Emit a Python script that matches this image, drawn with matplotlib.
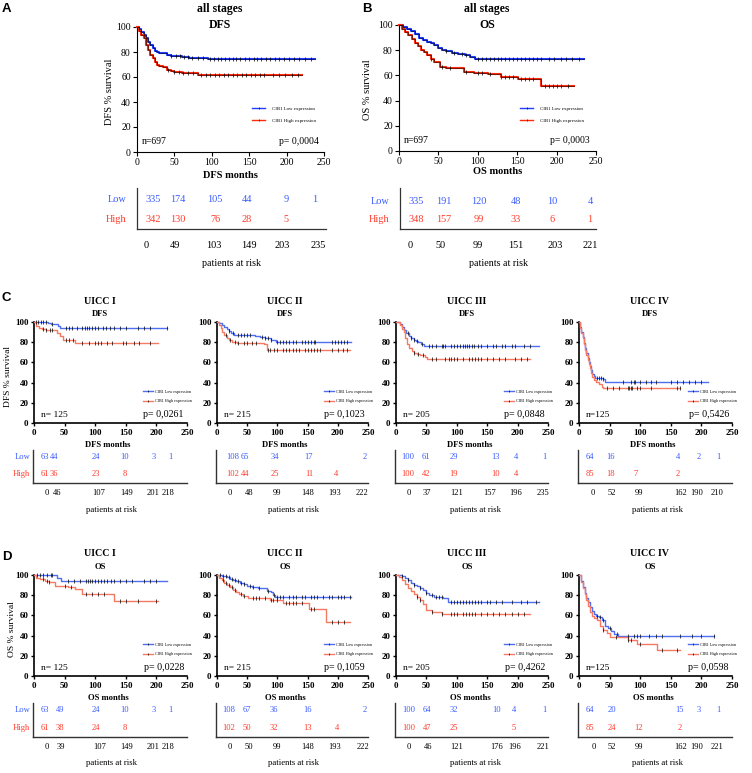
import matplotlib
matplotlib.use('Agg')
import matplotlib.pyplot as plt
import numpy as np
from matplotlib.lines import Line2D

plt.rcParams['font.family'] = ['Liberation Serif', 'DejaVu Serif']

# ---------------- data ----------------
# Panel A: all stages, DFS
A_low_t = [0, 3, 6, 9, 12, 15, 18, 21, 24, 27, 30, 35, 40, 45, 50, 60, 70, 80, 95, 238]
A_low_s = [100, 98.5, 96, 94, 91, 88, 86, 83, 81, 80, 79.5, 79, 78, 77, 76.5, 76, 75.5, 75, 74.5, 74.5]
A_low_c = [45, 52, 58, 63, 68, 74, 82, 88, 97, 103, 108, 112, 118, 123, 128, 133, 138, 144, 150, 156,
           160, 166, 172, 178, 185, 190, 196, 203, 210, 216, 224, 232]
A_high_t = [0, 3, 6, 9, 12, 15, 18, 21, 24, 27, 30, 35, 40, 45, 50, 60, 70, 82, 221]
A_high_s = [100, 97, 94, 91, 86, 82, 78, 75, 72, 70, 69, 68, 66, 65, 64, 63.5, 63, 61.5, 61.5]
A_high_c = [42, 50, 56, 62, 68, 75, 85, 92, 98, 104, 110, 116, 122, 128, 134, 140, 146, 152, 158, 164,
            170, 182, 190, 198, 207, 215]
# Panel B: all stages, OS
B_low_t = [0, 5, 10, 15, 20, 25, 30, 35, 40, 45, 50, 55, 60, 67, 75, 84, 90, 97, 235]
B_low_s = [100, 98.5, 97, 95, 93, 90, 88, 86.5, 85.5, 84, 82, 80.5, 79.5, 78, 77, 76, 75, 72.8, 72.8]
B_low_c = [60, 70, 80, 85, 100, 105, 110, 115, 120, 125, 130, 135, 140, 145, 150, 155, 160, 165, 170,
           175, 180, 190, 197, 205, 212, 220, 228]
B_high_t = [0, 4, 8, 12, 16, 20, 24, 28, 32, 36, 40, 45, 52, 60, 75, 82, 95, 113, 129, 151, 180, 222]
B_high_s = [100, 97, 94.5, 92, 89, 86, 83, 80.5, 78.5, 76, 73, 70.5, 67, 66, 65.5, 63, 62, 61.5, 59, 57, 51.3, 51.3]
B_high_c = [40, 55, 65, 85, 100, 105, 115, 130, 135, 140, 145, 155, 160, 165, 170, 185, 190, 195, 200, 205, 215]

# Panel C: DFS by UICC stage
C1_low_t = [0, 23, 28, 40, 43, 218]
C1_low_s = [100, 99, 98.5, 96, 94.4, 94.4]
C1_low_c = [3, 7, 11, 15, 19, 29, 52, 57, 62, 70, 78, 83, 86, 90, 95, 100, 105, 112, 118, 124, 130, 140,
            150, 170, 180, 190, 217]
C1_high_t = [0, 3, 8, 13, 20, 38, 43, 48, 67, 203]
C1_high_s = [100, 96, 94, 93.5, 92.4, 89, 86.5, 82, 79.5, 79.5]
C1_high_c = [14, 20, 26, 30, 53, 58, 63, 78, 90, 100, 105, 110, 120, 128, 145, 150, 163, 172, 190]

C2_low_t = [0, 4, 8, 12, 16, 20, 24, 28, 63, 72, 80, 90, 97, 222]
C2_low_s = [100, 99, 97, 95, 93, 91, 89, 87.5, 86.5, 85, 83.8, 82, 80.5, 80.5]
C2_low_c = [20, 26, 35, 40, 45, 50, 55, 75, 80, 85, 90, 100, 105, 110, 115, 120, 125, 130, 140, 145,
            150, 155, 160, 163, 190, 195, 200, 205, 210, 215]
C2_high_t = [0, 3, 6, 9, 12, 16, 20, 25, 33, 78, 82, 220]
C2_high_s = [100, 97, 94, 90, 87, 84, 82, 80.5, 79, 78.5, 72.5, 72.5]
C2_high_c = [15, 22, 30, 35, 45, 50, 58, 65, 85, 88, 95, 100, 110, 115, 120, 125, 130, 135, 145, 150,
             155, 160, 165, 170, 190, 200, 208, 215]

C3_low_t = [0, 7, 10, 13, 17, 21, 25, 29, 33, 37, 41, 46, 235]
C3_low_s = [100, 98, 95, 92, 89, 86, 84, 82, 81, 80, 78, 76, 76]
C3_low_c = [20, 25, 30, 35, 42, 55, 60, 65, 75, 78, 80, 90, 95, 100, 105, 110, 113, 117, 120, 125, 128,
            135, 140, 150, 160, 165, 175, 180, 190, 195, 210, 220]
C3_high_t = [0, 7, 10, 13, 15, 18, 22, 26, 30, 35, 40, 48, 51, 221]
C3_high_s = [100, 97, 93, 90, 84, 78, 74, 71, 69.5, 68, 67, 65.5, 63, 63]
C3_high_c = [30, 37, 44, 60, 65, 80, 87, 90, 95, 100, 110, 120, 125, 130, 135, 140, 150, 160, 170, 180,
             195, 205, 215]

C4_low_t = [0, 2, 4, 6, 8, 10, 12, 14, 16, 18, 20, 22, 24, 26, 40, 42, 210]
C4_low_s = [100, 95, 90, 85, 79, 74, 69, 64, 60, 56, 52, 49, 47, 45, 43.5, 41, 41]
C4_low_c = [30, 33, 36, 40, 72, 85, 90, 92, 100, 110, 118, 125, 150, 160, 170, 180, 190, 200]
C4_high_t = [0, 2, 4, 6, 8, 10, 12, 14, 16, 18, 20, 22, 24, 27, 32, 38, 40, 165]
C4_high_s = [100, 94, 89, 84, 78, 72, 67, 62, 58, 54, 50, 46, 43, 41, 39, 36, 34.5, 34.5]
C4_high_c = [45, 55, 65, 80, 82, 85, 87, 95, 100, 118, 160, 165]

# Panel D: OS by UICC stage
D1_low_t = [0, 38, 44, 218]
D1_low_s = [100, 97, 94.4, 94.4]
D1_low_c = [5, 10, 15, 22, 27, 30, 55, 65, 75, 85, 88, 92, 95, 100, 105, 110, 115, 120, 125, 130, 140,
            150, 160, 180, 190, 200]
D1_high_t = [0, 3, 10, 18, 25, 34, 55, 67, 78, 130, 203]
D1_high_s = [100, 97, 96, 94.5, 93, 89, 88.5, 86, 81, 74, 74]
D1_high_c = [15, 22, 25, 50, 60, 85, 95, 105, 115, 140, 150, 170, 200]

D2_low_t = [0, 8, 16, 22, 27, 32, 38, 44, 49, 58, 68, 82, 90, 93, 96, 222]
D2_low_s = [100, 99, 98, 96.5, 95, 94, 92.4, 91, 89, 88, 86.8, 84.5, 83.5, 80, 78, 78]
D2_low_c = [5, 10, 15, 20, 25, 30, 35, 40, 45, 55, 60, 70, 85, 95, 100, 105, 110, 120, 125, 130, 140,
            145, 155, 160, 165, 175, 185, 190, 200, 205, 210, 220]
D2_high_t = [0, 4, 8, 12, 16, 21, 26, 32, 37, 43, 52, 87, 110, 152, 181, 221]
D2_high_s = [100, 97.5, 95, 92.5, 90, 87.8, 85.5, 83.5, 81, 79, 77, 75, 72, 66, 53, 53]
D2_high_c = [10, 15, 20, 25, 30, 40, 45, 60, 65, 70, 80, 90, 92, 100, 115, 120, 125, 130, 140, 155,
             160, 190, 200, 210]

D3_low_t = [0, 10, 15, 20, 25, 30, 35, 40, 45, 50, 55, 62, 78, 86, 235]
D3_low_s = [100, 99, 97.5, 95, 92, 90.5, 89, 87, 85, 82, 80, 78, 77, 73.5, 73.5]
D3_low_c = [10, 20, 30, 40, 50, 60, 65, 70, 75, 90, 95, 100, 105, 110, 115, 120, 125, 130, 135, 140,
            150, 155, 165, 175, 190, 205, 215, 230]
D3_high_t = [0, 5, 10, 15, 20, 25, 30, 35, 40, 45, 50, 60, 75, 220]
D3_high_s = [100, 98, 95, 91, 87, 84, 81, 78, 75, 71, 65, 63, 61, 61]
D3_high_c = [35, 40, 60, 75, 90, 95, 100, 110, 115, 120, 125, 130, 140, 150, 160, 170, 180, 190, 200, 210]

D4_low_t = [0, 3, 6, 9, 12, 15, 18, 21, 24, 28, 33, 38, 43, 48, 53, 58, 63, 221]
D4_low_s = [100, 94, 88, 82, 77, 73, 68, 64, 61, 59, 58, 55, 50, 48, 45, 42, 39.5, 39.5]
D4_low_c = [30, 35, 40, 50, 62, 80, 90, 95, 100, 115, 125, 135, 165, 185, 200, 221]
D4_high_t = [0, 3, 6, 9, 12, 15, 18, 21, 25, 30, 35, 40, 45, 50, 80, 95, 128, 165]
D4_high_s = [100, 93, 87, 81, 75, 69, 63, 59, 57, 55, 50, 46, 43, 39, 36, 32, 26, 26]
D4_high_c = [40, 60, 80, 85, 100, 135, 160]

# numbers at risk
A_risk_low = [335, 174, 105, 44, 9, 1]
A_risk_high = [342, 130, 76, 28, 5, None]
A_risk_times = [0, 49, 103, 149, 203, 235]
B_risk_low = [335, 191, 120, 48, 10, 4]
B_risk_high = [348, 157, 99, 33, 6, 1]
B_risk_times = [0, 50, 99, 151, 203, 221]
C1_risk_low = [63, 44, 24, 10, 3, 1]
C1_risk_high = [61, 36, 23, 8, None, None]
C1_risk_times = [0, 46, 107, 149, 201, 218]
C2_risk_low = [108, 65, 34, 17, None, 2]
C2_risk_high = [102, 44, 25, 11, 4, None]
C2_risk_times = [0, 48, 99, 148, 193, 222]
C3_risk_low = [100, 61, 29, 13, 4, 1]
C3_risk_high = [100, 42, 19, 10, 4, None]
C3_risk_times = [0, 37, 121, 157, 196, 235]
C4_risk_low = [64, 16, None, 4, 2, 1]
C4_risk_high = [85, 18, 7, 2, None, None]
C4_risk_times = [0, 52, 99, 162, 190, 210]
D1_risk_low = [63, 49, 24, 10, 3, 1]
D1_risk_high = [61, 38, 24, 8, None, None]
D1_risk_times = [0, 39, 107, 149, 201, 218]
D2_risk_low = [108, 67, 36, 16, None, 2]
D2_risk_high = [102, 50, 32, 13, 4, None]
D2_risk_times = [0, 50, 99, 148, 193, 222]
D3_risk_low = [100, 64, 32, 10, 4, 1]
D3_risk_high = [100, 47, 25, None, 5, None]
D3_risk_times = [0, 46, 121, 176, 196, 221]
D4_risk_low = [64, 20, None, 15, 3, 1]
D4_risk_high = [85, 24, 12, 2, None, None]
D4_risk_times = [0, 52, 99, 162, 190, 221]

n_labels = ['n=697', 'n=697', 'n= 125', 'n= 215', 'n= 205', 'n=125', 'n= 125', 'n= 215', 'n= 205', 'n=125']
p_labels = ['p= 0,0004', 'p= 0,0003', 'p= 0,0261', 'p= 0,1023', 'p= 0,0848', 'p= 0,5426',
            'p= 0,0228', 'p= 0,1059', 'p= 0,4262', 'p= 0,0598']

# ---------------- layout ----------------
W, H = 752, 773
fig = plt.figure(figsize=(W / 100, H / 100), dpi=100)


def ax_px(x0, y0, x1, y1):
    return fig.add_axes([x0 / W, 1 - y1 / H, (x1 - x0) / W, (y1 - y0) / H])


def ftext(x, y, s, **kw):
    fig.text(x / W, 1 - y / H, s, **kw)


BLUE_AB, RED_AB = '#1f3cff', '#ff2a0a'
BLUE_CD, RED_CD = '#4f6ff0', '#f47a62'
TBL_BLUE, TBL_RED = '#3a5cff', '#ff3a2a'


def surv_at(t, s, x):
    idx = np.searchsorted(np.asarray(t), np.asarray(x), side='right') - 1
    return np.asarray(s)[np.clip(idx, 0, len(s) - 1)]


def draw_km(ax, t, s, c, color, lw, ms, black_overlay):
    ax.step(t, s, where='post', color=color, lw=lw, clip_on=False, zorder=3)
    if black_overlay:
        ax.step(t, s, where='post', color='black', lw=0.45, alpha=0.8, clip_on=False, zorder=4)
    ax.plot(c, surv_at(t, s, c), ls='none', marker='|', color='black', ms=ms, mew=0.5,
            clip_on=False, zorder=5)


def style_axes(ax, big):
    ax.set_xlim(0, 250)
    ax.set_ylim(0, 100)
    ax.set_xticks([0, 50, 100, 150, 200, 250])
    ax.set_yticks([0, 20, 40, 60, 80, 100])
    for sp in ['top', 'right']:
        ax.spines[sp].set_visible(False)
    for sp in ['left', 'bottom']:
        ax.spines[sp].set_linewidth(0.8 if big else 1.2)
    ax.tick_params(direction='out', length=3 if big else 2.5, width=0.8 if big else 1.0,
                   labelsize=7 if big else 6.5, pad=1.5)
    if not big:
        for lab in ax.get_xticklabels() + ax.get_yticklabels():
            lab.set_fontweight('bold')
    ax.patch.set_alpha(0)


def legend(ax, colors, anchor, fs, hl, ls, htp, ms):
    handles = [Line2D([0], [0], color=colors[0], lw=1.0, marker='|', mec='black', ms=ms, mew=0.5),
               Line2D([0], [0], color=colors[1], lw=1.0, marker='|', mec='black', ms=ms, mew=0.5)]
    ax.legend(handles, ['CIB1 Low expression', 'CIB1 High expression'], loc='upper left',
              bbox_to_anchor=anchor, frameon=False, fontsize=fs, handlelength=hl,
              labelspacing=ls, handletextpad=htp, borderpad=0, borderaxespad=0, markerscale=1)


def risk_table(box, lowlab_x, rows_y, bottom_y, num_x, bot_x, low, high, times, fs, lw, show_lh):
    tax = ax_px(*box)
    tax.set_xticks([]); tax.set_yticks([])
    for sp in ['top', 'right']:
        tax.spines[sp].set_visible(False)
    for sp in ['left', 'bottom']:
        tax.spines[sp].set_linewidth(lw)
        tax.spines[sp].set_color('#333333')
    tax.patch.set_alpha(0)
    if show_lh:
        ftext(lowlab_x, rows_y[0], 'Low', color=TBL_BLUE, fontsize=fs, ha='right', va='center')
        ftext(lowlab_x, rows_y[1], 'High', color=TBL_RED, fontsize=fs, ha='right', va='center')
    for x, v in zip(num_x, low):
        if v is not None:
            ftext(x, rows_y[0], str(v), color=TBL_BLUE, fontsize=fs, ha='center', va='center')
    for x, v in zip(num_x, high):
        if v is not None:
            ftext(x, rows_y[1], str(v), color=TBL_RED, fontsize=fs, ha='center', va='center')
    for x, v in zip(bot_x, times):
        ftext(x, bottom_y, str(v), color='black', fontsize=fs, ha='center', va='center')


# ---------------- Panels A and B ----------------
ab = [
    dict(box=(137, 27, 324, 152), low=(A_low_t, A_low_s, A_low_c), high=(A_high_t, A_high_s, A_high_c),
         title_x=220, ylab='DFS % survival', ylab_x=110, xlab='DFS months', xlab_y=175,
         leg=(0.615, 0.365), n=n_labels[0], p=p_labels[0],
         tbl=(137, 188, 326, 229), lowlab_x=126, rows=(200, 220),
         num_x=[153, 178, 215, 247, 286, 315], bot_x=[146, 175, 214, 249, 282, 318],
         risk=(A_risk_low, A_risk_high, A_risk_times), par_x=232, letter=('A', 2)),
    dict(box=(399, 25, 596, 151), low=(B_low_t, B_low_s, B_low_c), high=(B_high_t, B_high_s, B_high_c),
         title_x=487, ylab='OS % survival', ylab_x=367, xlab='OS months', xlab_y=172,
         leg=(0.614, 0.355), n=n_labels[1], p=p_labels[1],
         tbl=(400, 188, 596, 229), lowlab_x=389, rows=(201, 219),
         num_x=[416, 444, 479, 516, 552, 590], bot_x=[410, 440, 478, 516, 555, 590],
         risk=(B_risk_low, B_risk_high, B_risk_times), par_x=499, letter=('B', 362)),
]
for P in ab:
    ax = ax_px(*P['box'])
    style_axes(ax, True)
    draw_km(ax, *P['low'], BLUE_AB, 1.5, 2.2, True)
    draw_km(ax, *P['high'], RED_AB, 1.5, 2.2, True)
    legend(ax, (BLUE_AB, RED_AB), P['leg'], 3.5, 2.7, 1.6, 1.4, 2)
    ax.text(0.025, 0.08, P['n'], transform=ax.transAxes, fontsize=7, ha='left', va='center')
    ax.text(0.97, 0.08, P['p'], transform=ax.transAxes, fontsize=7, ha='right', va='center')
    ftext(P['title_x'], 9, 'all stages', fontsize=8.5, fontweight='bold', ha='center', va='center')
    ftext(P['title_x'], 25, 'DFS' if 'DFS' in P['ylab'] else 'OS', fontsize=8.5, fontweight='bold',
          ha='center', va='center')
    cx = (P['box'][0] + P['box'][2]) / 2
    ftext(P['ylab_x'], (P['box'][1] + P['box'][3]) / 2 + 2, P['ylab'], fontsize=7.5, rotation=90,
          ha='center', va='center')
    ftext(cx, P['xlab_y'], P['xlab'], fontsize=7.5, fontweight='bold', ha='center', va='center')
    risk_table(P['tbl'], P['lowlab_x'], P['rows'], 245, P['num_x'], P['bot_x'], *P['risk'], 7.4, 0.9, True)
    ftext(P['par_x'], 263, 'patients at risk', fontsize=7.2, ha='center', va='center')
    ftext(P['letter'][1], 9, P['letter'][0], fontsize=9.5, fontweight='bold', family='Liberation Sans',
          ha='left', va='center')

# ---------------- Panels C and D ----------------
col_x0 = [34, 217, 396, 579]
col_x1 = [187, 368, 548, 732]
title_cx = [100, 285, 467, 650]
xlab_cx = [108, 285, 470, 653]
par_cx = [112, 293, 476, 658]
stage_names = ['UICC I', 'UICC II', 'UICC III', 'UICC IV']

rowsCD = [
    dict(y0=322, y1=423, title_y=301, sub_y=314, sub='DFS', xlab='DFS months', xlab_y=445,
         tbl=(450, 483), rows=(457, 474), bot_y=493, par_y=510, ylab='DFS % survival', ylab_x=8,
         letter=('C', 298),
         num_cols=[[45, 54, 96, 125, 154, 170], [233, 245, 275, 309, 336, 365],
                   [408, 426, 454, 496, 516, 544], [590, 611, 636, 678, 699, 718]],
         bot_cols=[[47, 57, 99, 127, 153, 168], [230, 249, 277, 308, 335, 362],
                   [409, 427, 457, 490, 516, 543], [593, 612, 639, 681, 697, 717]],
         curves=[((C1_low_t, C1_low_s, C1_low_c), (C1_high_t, C1_high_s, C1_high_c)),
                 ((C2_low_t, C2_low_s, C2_low_c), (C2_high_t, C2_high_s, C2_high_c)),
                 ((C3_low_t, C3_low_s, C3_low_c), (C3_high_t, C3_high_s, C3_high_c)),
                 ((C4_low_t, C4_low_s, C4_low_c), (C4_high_t, C4_high_s, C4_high_c))],
         risks=[(C1_risk_low, C1_risk_high, C1_risk_times), (C2_risk_low, C2_risk_high, C2_risk_times),
                (C3_risk_low, C3_risk_high, C3_risk_times), (C4_risk_low, C4_risk_high, C4_risk_times)],
         idx0=2),
    dict(y0=575, y1=676, title_y=553, sub_y=567, sub='OS', xlab='OS months', xlab_y=698,
         tbl=(703, 737), rows=(710, 728), bot_y=747, par_y=763, ylab='OS % survival', ylab_x=12,
         letter=('D', 557),
         num_cols=[[45, 60, 96, 125, 154, 170], [229, 247, 274, 308, 337, 365],
                   [409, 427, 454, 497, 514, 544], [590, 612, 639, 680, 699, 718]],
         bot_cols=[[47, 61, 100, 127, 153, 168], [230, 249, 277, 308, 335, 363],
                   [409, 428, 457, 497, 515, 543], [594, 612, 639, 681, 697, 717]],
         curves=[((D1_low_t, D1_low_s, D1_low_c), (D1_high_t, D1_high_s, D1_high_c)),
                 ((D2_low_t, D2_low_s, D2_low_c), (D2_high_t, D2_high_s, D2_high_c)),
                 ((D3_low_t, D3_low_s, D3_low_c), (D3_high_t, D3_high_s, D3_high_c)),
                 ((D4_low_t, D4_low_s, D4_low_c), (D4_high_t, D4_high_s, D4_high_c))],
         risks=[(D1_risk_low, D1_risk_high, D1_risk_times), (D2_risk_low, D2_risk_high, D2_risk_times),
                (D3_risk_low, D3_risk_high, D3_risk_times), (D4_risk_low, D4_risk_high, D4_risk_times)],
         idx0=6),
]

for R in rowsCD:
    for k in range(4):
        ax = ax_px(col_x0[k], R['y0'], col_x1[k], R['y1'])
        style_axes(ax, False)
        lo, hi = R['curves'][k]
        draw_km(ax, *lo, BLUE_CD, 1.0, 2.5, False)
        draw_km(ax, *hi, RED_CD, 1.0, 2.5, False)
        legend(ax, (BLUE_CD, RED_CD), (0.71, 0.33), 3.0, 2.4, 1.3, 0.5, 2)
        ax.text(0.045, 0.08, n_labels[R['idx0'] + k], transform=ax.transAxes, fontsize=6.8,
                ha='left', va='center')
        ax.text(0.98, 0.08, p_labels[R['idx0'] + k], transform=ax.transAxes, fontsize=7.2,
                ha='right', va='center')
        ftext(title_cx[k], R['title_y'], stage_names[k], fontsize=7.2, fontweight='bold',
              ha='center', va='center')
        ftext(title_cx[k], R['sub_y'], R['sub'], fontsize=6.2, fontweight='bold', ha='center', va='center')
        ftext(xlab_cx[k], R['xlab_y'], R['xlab'], fontsize=6.2, fontweight='bold', ha='center', va='center')
        risk_table((col_x0[k] - 1, R['tbl'][0], col_x1[k], R['tbl'][1]), col_x0[k] - 4, R['rows'],
                   R['bot_y'], R['num_cols'][k], R['bot_cols'][k], *R['risks'][k], 6.1, 1.0, k == 0)
        ftext(par_cx[k], R['par_y'], 'patients at risk', fontsize=6.2, ha='center', va='center')
    ftext(R['ylab_x'], (R['y0'] + R['y1']) / 2 + 4, R['ylab'], fontsize=6.8, rotation=90,
          ha='center', va='center')
    ftext(2, R['letter'][1], R['letter'][0], fontsize=9.5, fontweight='bold', family='Liberation Sans',
          ha='left', va='center')

fig.savefig('out.png', dpi=100)
